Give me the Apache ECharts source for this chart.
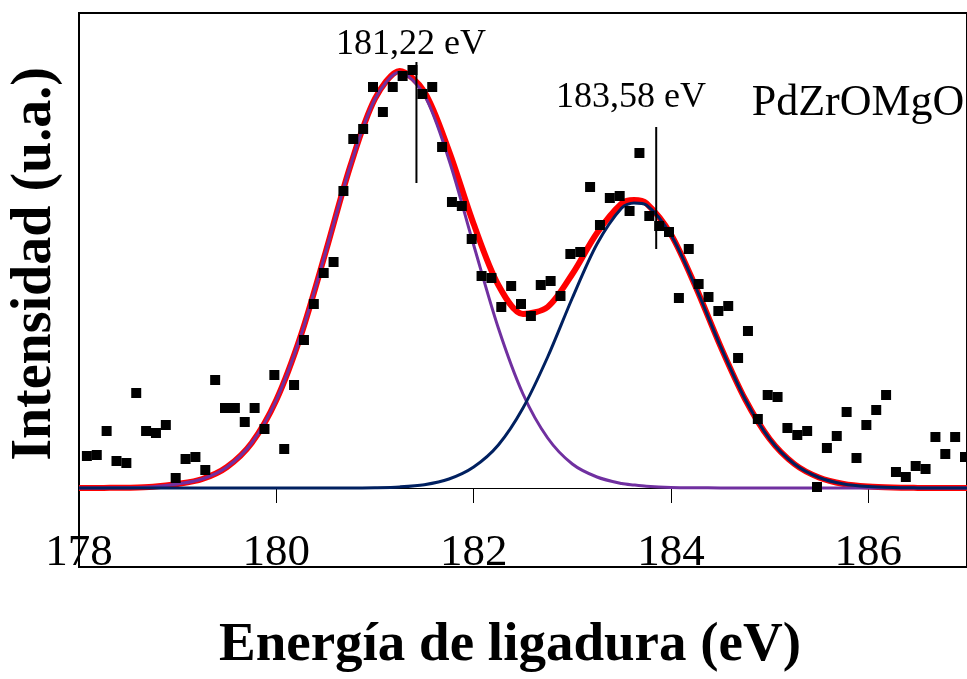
<!DOCTYPE html>
<html>
<head>
<meta charset="utf-8">
<script src="https://cdn.jsdelivr.net/npm/echarts@6/dist/echarts.min.js"></script>
<style>
html,body{margin:0;padding:0;background:#fff;}
#chart{width:967px;height:679px;}
</style>
</head>
<body>
<div id="chart"></div>
<script>
// Fitted curves sampled along energy (eV)
const fitEnergy = [178,178.25,178.5,178.75,179,179.25,179.5,179.75,180,180.25,180.5,180.75,181,181.25,181.5,181.75,182,182.25,182.5,182.75,183,183.25,183.5,183.625,183.75,184,184.25,184.5,184.75,185,185.25,185.5,185.75,186,186.25,186.5,186.75,187];
const fitTotal = [0,0.1,0.3,1.2,4,9,21,45,88,153,236,322,389.3,417.1,396.3,337,264,203,174,181,214,255,284.5,288,284.8,253.6,201.2,142.1,89,49,24,10.5,4,1.4,0.4,0.1,0,0];
const fitPeak1 = [0,0.1,0.3,1.2,4,9,21,45,88,153,236,322,389,416,393,328,243,160,94,50,24,11,4.5,3,1.8,0.6,0.2,0.1,0,0,0,0,0,0,0,0,0,0];
const fitPeak2 = [0,0,0,0,0,0,0,0,0,0,0,0,0.3,1.1,3.3,9,21,43,80,131,190,244,280,285,283,253,201,142,89,49,24,10.5,4,1.4,0.4,0.1,0,0];

// Experimental points
const expEnergy = [178.08,178.18,178.28,178.38,178.48,178.58,178.68,178.78,178.88,178.98,
  179.08,179.18,179.28,179.38,179.48,179.58,179.68,179.78,179.88,179.98,
  180.08,180.18,180.28,180.38,180.48,180.58,180.68,180.78,180.88,180.98,
  181.08,181.18,181.28,181.38,181.48,181.58,181.68,181.78,181.88,181.98,
  182.08,182.18,182.28,182.38,182.48,182.58,182.68,182.78,182.88,182.98,
  183.08,183.18,183.28,183.38,183.48,183.58,183.68,183.78,183.88,183.98,
  184.08,184.18,184.28,184.38,184.48,184.58,184.68,184.78,184.88,184.98,
  185.08,185.18,185.28,185.38,185.48,185.58,185.68,185.78,185.88,185.98,
  186.08,186.18,186.28,186.38,186.48,186.58,186.68,186.78,186.88,186.98];
const expIntensity = [32,33,57,27,25,95,57,55,63,10,
  29,31,18,108,80,80,66,80,59,113,
  39,103,148,184,215,226,297,349,359,401,
  376,401,412,418,394,401,341,286,282,249,
  212,210,181,202,184,172,203,207,192,234,
  236,301,263,290,292,277,335,272,262,256,
  190,239,204,191,177,182,130,157,69,93,
  91,60,53,57,1,40,52,76,30,63,
  78,93,16,11,22,19,51,34,51,31];

// Peak marker lines
const markerEnergy = [181.42, 183.85];
const markerLow = [305, 239];
const markerHigh = [426, 361];
const markerLabels = ['181,22 eV', '183,58 eV'];

// Axis
const xMin = 178, xMax = 187, xStep = 2;

const zip = (a, b) => a.map((v, i) => [v, b[i]]);

const chart = echarts.init(document.getElementById('chart'), null, {renderer: 'canvas'});
const serif = '"Liberation Serif", "DejaVu Serif", serif';

const series = [
  {type: 'line', data: zip(fitEnergy, fitTotal), smooth: 0.3, showSymbol: false, symbol: 'none',
   lineStyle: {color: '#ff0000', width: 6}, z: 2},
  {type: 'line', data: zip(fitEnergy, fitPeak1), smooth: 0.3, showSymbol: false, symbol: 'none',
   lineStyle: {color: '#7030a0', width: 3}, z: 3},
  {type: 'line', data: zip(fitEnergy, fitPeak2), smooth: 0.3, showSymbol: false, symbol: 'none',
   lineStyle: {color: '#002060', width: 3}, z: 4},
  {type: 'scatter', data: zip(expEnergy, expIntensity), symbol: 'rect', symbolSize: 10,
   itemStyle: {color: '#000', opacity: 1}, z: 5}
];
markerEnergy.forEach((e, i) => {
  series.push({type: 'line', data: [[e, markerLow[i]], [e, markerHigh[i]]], symbol: 'none',
    lineStyle: {color: '#000', width: 2}, z: 6});
});

chart.setOption({
  animation: false,
  backgroundColor: '#fff',
  grid: {left: 79, top: 13, width: 891, height: 554, show: true, borderColor: '#000', borderWidth: 2, backgroundColor: 'transparent'},
  xAxis: {
    type: 'value', min: xMin, max: xMax, interval: xStep,
    axisLine: {show: true, onZero: true, lineStyle: {color: '#000', width: 1}},
    axisTick: {show: true, length: 15, lineStyle: {color: '#000', width: 1}},
    axisLabel: {show: true, fontSize: 45, fontFamily: serif, color: '#000', margin: -36, showMaxLabel: false},
    splitLine: {show: false}
  },
  yAxis: {
    type: 'value', min: -79, max: 475,
    axisLine: {show: false}, axisTick: {show: false}, axisLabel: {show: false}, splitLine: {show: false}
  },
  series: series,
  graphic: [
    {type: 'text', x: 36, y: 264, rotation: Math.PI / 2,
     style: {text: 'Intensidad (u.a.)', font: 'bold 56px ' + serif, fill: '#000', textAlign: 'center', textVerticalAlign: 'middle'}},
    {type: 'text', x: 510, y: 646,
     style: {text: 'Energía de ligadura (eV)', font: 'bold 55px ' + serif, fill: '#000', textAlign: 'center', textVerticalAlign: 'middle'}},
    {type: 'text', x: 411, y: 45,
     style: {text: markerLabels[0], font: '36px ' + serif, fill: '#000', textAlign: 'center', textVerticalAlign: 'middle'}},
    {type: 'text', x: 631, y: 98,
     style: {text: markerLabels[1], font: '36px ' + serif, fill: '#000', textAlign: 'center', textVerticalAlign: 'middle'}},
    {type: 'text', x: 858, y: 103,
     style: {text: 'PdZrOMgO', font: '44px ' + serif, fill: '#000', textAlign: 'center', textVerticalAlign: 'middle'}}
  ]
});
</script>
</body>
</html>
